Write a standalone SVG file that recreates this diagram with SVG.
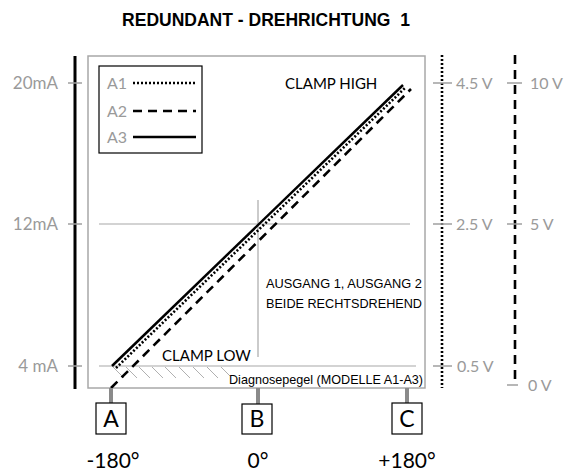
<svg xmlns="http://www.w3.org/2000/svg" width="567" height="474" viewBox="0 0 567 474">
<style>
.title{font-family:"Liberation Sans",Arial,sans-serif;font-weight:bold;font-size:17.5px;fill:#000}
.gl{font-family:Lato,"Open Sans",sans-serif;fill:#9a9a9a}
.bl{font-family:Lato,"Open Sans",sans-serif;fill:#000}
.hl{font-family:"Liberation Sans",Arial,sans-serif;font-size:13.5px;fill:#000}
.grid{stroke:#a8a8a8;stroke-width:1.2;fill:none}
.tick{stroke:#a0a0a0;stroke-width:1.5;fill:none}
.solid{stroke:#000;stroke-width:2.5;fill:none}
.dot{stroke:#000;stroke-width:2.6;stroke-dasharray:2 2;fill:none}
.dash{stroke:#000;stroke-width:2.6;stroke-dasharray:9 6;fill:none}
.hatch{stroke:#b0b0b0;stroke-width:1;fill:none}
.lbox{fill:#fff;stroke:#000;stroke-width:1.2}
.conn{stroke:#8a8a8a;stroke-width:4;fill:none}
</style>
<rect width="567" height="474" fill="#fff"/>
<text class="title" x="266" y="26" text-anchor="middle">REDUNDANT - DREHRICHTUNG&#160; 1</text>

<g id="frame">
<rect x="88" y="56" width="337" height="332" fill="none" stroke="#a8a8a8" stroke-width="1.5"/>
<line class="grid" x1="99" y1="224" x2="410" y2="224"/>
<line class="grid" x1="99" y1="366" x2="416" y2="366"/>
<line class="grid" x1="258" y1="200" x2="258" y2="357"/>
<g id="hatch">
<path class="hatch" d="M113 367l11 11M126 367l11 11M139 367l11 11M152 367l11 11M165 367l11 11M179 367l11 11M193 367l11 11M207 367l11 11M221 367l9 9"/>
</g>
</g>

<g id="left-axis">
<line x1="75" y1="56" x2="75" y2="389" stroke="#000" stroke-width="3"/>
<path class="tick" d="M68 83H82M68 224H82M68 366H82"/>
<text class="gl" font-size="17" x="58" y="89" text-anchor="end">20mA</text>
<text class="gl" font-size="17" x="58" y="230" text-anchor="end">12mA</text>
<text class="gl" font-size="17" x="58" y="372" text-anchor="end">4 mA</text>
</g>

<g id="right-axis-1">
<line class="dot" x1="442" y1="55" x2="442" y2="388"/>
<path class="tick" d="M433 83H452M433 224H452M433 366H452"/>
<text class="gl" font-size="16" x="456" y="89">4.5 V</text>
<text class="gl" font-size="16" x="456" y="230">2.5 V</text>
<text class="gl" font-size="16" x="457" y="372">0.5 V</text>
</g>

<g id="right-axis-2">
<line class="dash" x1="515" y1="55" x2="515" y2="384" stroke-dasharray="10 6"/>
<path class="tick" d="M507 83H522M507 224H522M507 385H518"/>
<text class="gl" font-size="16" x="530" y="89">10 V</text>
<text class="gl" font-size="16" x="530" y="230">5 V</text>
<text class="gl" font-size="16" x="528" y="391">0 V</text>
</g>

<g id="legend">
<rect class="lbox" x="99" y="66" width="103" height="87"/>
<text class="gl" font-size="16" x="107" y="89">A1</text>
<text class="gl" font-size="16" x="107" y="117">A2</text>
<text class="gl" font-size="16" x="107" y="143">A3</text>
<line class="dot" x1="133" y1="83" x2="197" y2="83"/>
<line class="dash" x1="133" y1="111" x2="196" y2="111"/>
<line class="solid" x1="133" y1="137" x2="196" y2="137"/>
</g>

<g id="curves">
<line class="solid" x1="112" y1="366" x2="403" y2="85"/>
<line class="dot" x1="116" y1="368" x2="406" y2="87"/>
<line class="dash" x1="111" y1="388" x2="411" y2="89"/>
</g>

<g id="labels">
<text class="bl" font-size="15" x="285" y="89">CLAMP HIGH</text>
<text class="bl" font-size="15" x="162" y="361">CLAMP LOW</text>
<text class="hl" x="422" y="288" text-anchor="end" textLength="156" lengthAdjust="spacingAndGlyphs">AUSGANG 1, AUSGANG 2</text>
<text class="hl" x="422" y="308" text-anchor="end" textLength="156" lengthAdjust="spacingAndGlyphs">BEIDE RECHTSDREHEND</text>
<text class="hl" font-size="12.5" x="423" y="384" text-anchor="end" textLength="194" lengthAdjust="spacingAndGlyphs">Diagnosepegel (MODELLE A1-A3)</text>
</g>

<g id="connectors">
<line class="conn" x1="111" y1="388" x2="111" y2="403"/>
<line class="conn" x1="258" y1="388" x2="258" y2="404"/>
<line class="conn" x1="407" y1="388" x2="407" y2="403"/>
</g>

<g id="node-A">
<rect x="96" y="403" width="30" height="31" fill="#fff" stroke="#000" stroke-width="1.2"/>
<text class="bl" font-size="23" x="111" y="427" text-anchor="middle">A</text>
<text class="bl" font-size="21" x="113" y="468" text-anchor="middle">-180°</text>
</g>
<g id="node-B">
<rect x="242" y="404" width="30" height="30" fill="#fff" stroke="#000" stroke-width="1.2"/>
<text class="bl" font-size="23" x="257" y="427" text-anchor="middle">B</text>
<text class="bl" font-size="21" x="258" y="468" text-anchor="middle">0°</text>
</g>
<g id="node-C">
<rect x="392" y="403" width="30" height="31" fill="#fff" stroke="#000" stroke-width="1.2"/>
<text class="bl" font-size="23" x="407" y="427" text-anchor="middle">C</text>
<text class="bl" font-size="21" x="407" y="468" text-anchor="middle">+180°</text>
</g>
</svg>
